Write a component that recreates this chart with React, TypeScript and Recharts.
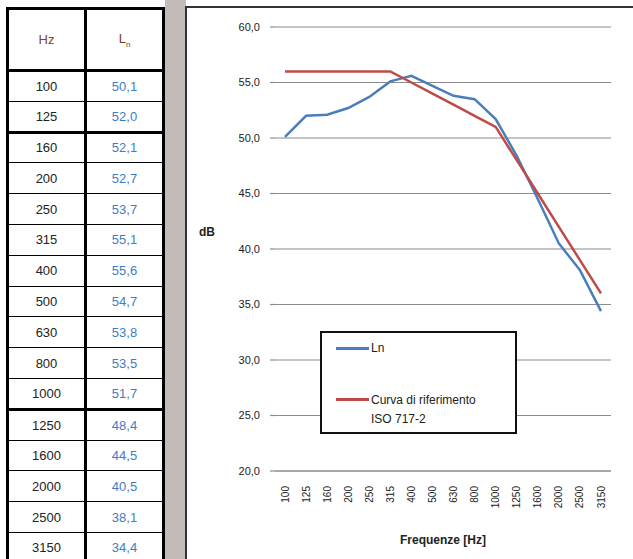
import React from 'react';
import { LineChart, Line, XAxis, YAxis, CartesianGrid } from 'recharts';

const frequencies = ['100', '125', '160', '200', '250', '315', '400', '500', '630', '800', '1000', '1250', '1600', '2000', '2500', '3150'];
const lnValues = [50.1, 52.0, 52.1, 52.7, 53.7, 55.1, 55.6, 54.7, 53.8, 53.5, 51.7, 48.4, 44.5, 40.5, 38.1, 34.4];
const refValues = [56, 56, 56, 56, 56, 56, 55, 54, 53, 52, 51, 48, 45, 42, 39, 36];
const yTicks = [20, 25, 30, 35, 40, 45, 50, 55, 60];

const FONT = '"Liberation Sans", Arial, sans-serif';
const BLUE = '#4a7ebb';
const RED = '#be4b48';

const fmt = (v: number) => v.toFixed(1).replace('.', ',');

const XTick = (props: any) => {
  const { x, y, payload } = props;
  return (
    <text
      x={x}
      y={y + 7}
      transform={`rotate(-90 ${x} ${y + 7})`}
      textAnchor='end'
      dominantBaseline='central'
      fontSize={10}
      fill='#222'
      fontFamily={FONT}
    >
      {payload.value}
    </text>
  );
};

const LegendBox = () => (
  <div
    style={{
      position: 'absolute',
      left: 133,
      top: 323,
      width: 197,
      height: 103,
      boxSizing: 'border-box',
      border: '2px solid #111',
      background: '#fff',
      fontFamily: FONT,
      fontSize: 12,
      color: '#222',
    }}
  >
    <div style={{ position: 'absolute', left: 14, top: 14, width: 33, height: 3, background: BLUE }} />
    <div style={{ position: 'absolute', left: 49, top: 8 }}>Ln</div>
    <div style={{ position: 'absolute', left: 14, top: 65, width: 33, height: 3, background: RED }} />
    <div style={{ position: 'absolute', left: 49, top: 58, lineHeight: '19px' }}>
      Curva di riferimento
      <br />
      ISO 717-2
    </div>
  </div>
);

export default function App() {
  const data = frequencies.map((f, i) => ({ hz: f, ln: lnValues[i], ref: refValues[i] }));

  const cell = (i: number, col: number): React.CSSProperties => ({
    borderLeft: '3px solid #000',
    borderRight: '3px solid #000',
    borderBottom: i === 1 || i === 10 ? '3px solid #000' : '1.5px solid #000',
    textAlign: 'center',
    padding: 0,
    color: col === 0 ? '#222' : '#3f7cc7',
  });

  return (
    <div
      style={{
        position: 'absolute',
        left: 0,
        top: 0,
        width: 633,
        height: 559,
        overflow: 'hidden',
        background: '#fff',
        fontFamily: FONT,
      }}
    >
      <table
        style={{
          position: 'absolute',
          left: 6,
          top: 7,
          borderCollapse: 'collapse',
          tableLayout: 'fixed',
          fontSize: 13,
          fontFamily: FONT,
        }}
      >
        <colgroup>
          <col style={{ width: 78 }} />
          <col style={{ width: 78 }} />
        </colgroup>
        <tbody>
          <tr style={{ height: 62 }}>
            <td style={{ border: '3px solid #000', textAlign: 'center', color: '#7a4a22' }}>Hz</td>
            <td style={{ border: '3px solid #000', textAlign: 'center', color: '#7a3a22' }}>
              L<sub style={{ fontSize: 8 }}>n</sub>
            </td>
          </tr>
          {data.map((d, i) => (
            <tr key={d.hz} style={{ height: 30.8 }}>
              <td style={cell(i, 0)}>{d.hz}</td>
              <td style={cell(i, 1)}>{fmt(d.ln)}</td>
            </tr>
          ))}
        </tbody>
      </table>

      <div
        style={{
          position: 'absolute',
          left: 165,
          top: 0,
          width: 21,
          height: 559,
          background: '#c2bbb7',
        }}
      />

      <div
        style={{
          position: 'absolute',
          left: 185,
          top: 6,
          width: 448,
          height: 553,
          borderLeft: '2px solid #333',
          borderTop: '2px solid #333',
          background: '#fff',
        }}
      >
        <LineChart
          width={448}
          height={553}
          data={data}
          margin={{ top: 19, right: 24, left: 0, bottom: 0 }}
        >
          <CartesianGrid vertical={false} stroke='#8c8c8c' strokeWidth={1.2} />
          <XAxis
            dataKey='hz'
            height={90}
            interval={0}
            padding={{ left: 10, right: 10 }}
            tick={<XTick />}
            tickLine={false}
            axisLine={{ stroke: '#8c8c8c', strokeWidth: 1.2 }}
            label={{
              value: 'Frequenze [Hz]',
              position: 'insideBottom',
              offset: 17,
              fontSize: 12,
              fontWeight: 'bold',
              fill: '#222',
              fontFamily: FONT,
            }}
          />
          <YAxis
            width={88}
            domain={[20, 60]}
            ticks={yTicks}
            interval={0}
            axisLine={false}
            tickSize={5}
            tickMargin={10}
            tickLine={{ stroke: '#8c8c8c', strokeWidth: 1.2 }}
            tickFormatter={fmt}
            tick={{ fontSize: 11, fill: '#222', fontFamily: FONT }}
          />
          <Line
            dataKey='ln'
            name='Ln'
            stroke={BLUE}
            strokeWidth={2.5}
            dot={false}
            isAnimationActive={false}
          />
          <Line
            dataKey='ref'
            name='Curva di riferimento ISO 717-2'
            stroke={RED}
            strokeWidth={2.5}
            dot={false}
            isAnimationActive={false}
          />
        </LineChart>
        <LegendBox />
        <div
          style={{
            position: 'absolute',
            left: 12,
            top: 217,
            fontSize: 12,
            fontWeight: 'bold',
            color: '#222',
          }}
        >
          dB
        </div>
      </div>
    </div>
  );
}
